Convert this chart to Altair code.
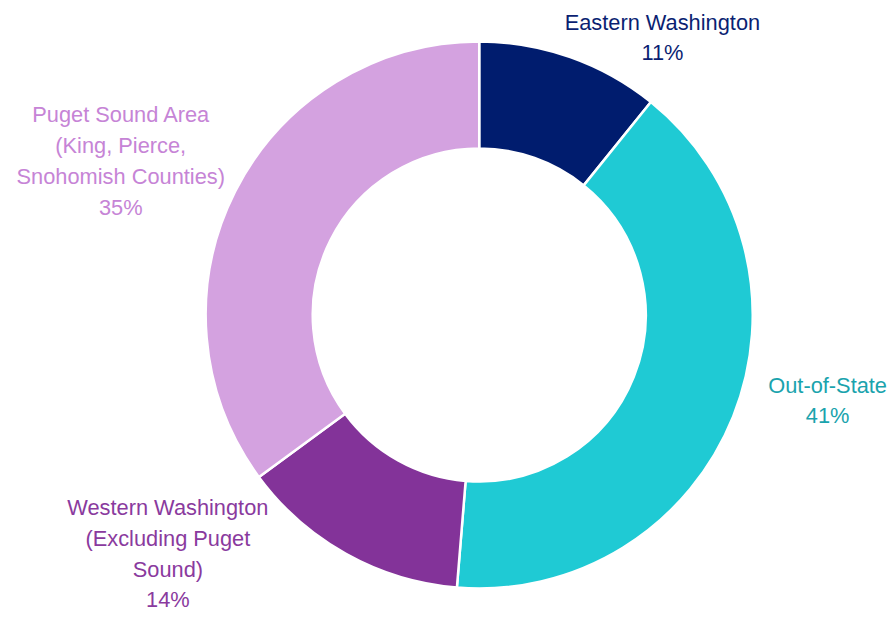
import altair as alt
import pandas as pd

regions = ["Eastern Washington", "Out-of-State", "Western Washington", "Puget Sound Area"]
label_text = [
    "Eastern Washington\n11%",
    "Out-of-State\n41%",
    "Western Washington\n(Excluding Puget\nSound)\n14%",
    "Puget Sound Area\n(King, Pierce,\nSnohomish Counties)\n35%",
]
shares = [10.8, 40.5, 13.6, 35.1]
order = [0, 1, 2, 3]

slice_colors = ["#001C6E", "#1FCAD4", "#833399", "#D4A2E0"]
text_colors = ["#0B1F72", "#1AA3AD", "#8A3A9E", "#C684D6"]

df = pd.DataFrame({"region": regions, "label": label_text, "share": shares, "idx": order})

CX, CY = 475.5, 307  # donut centre in chart coords

base = alt.Chart(df)

donut = base.mark_arc(innerRadius=168, outerRadius=276, stroke="white", strokeWidth=2.5).encode(
    theta=alt.Theta("share:Q", stack=True),
    order=alt.Order("idx:Q"),
    color=alt.Color("region:N", scale=alt.Scale(domain=regions, range=slice_colors), legend=None),
    x=alt.value(CX),
    y=alt.value(CY),
)

# label offsets (dx, dy) from a point at radius 300 on the slice mid-angle
offsets = [(85, -12), (73, -40), (-168, -67), (-94, -66)]

stacked = (
    base.transform_joinaggregate(total="sum(share)")
    .transform_stack(stack="share", groupby=[], as_=["s0", "s1"], sort=[alt.SortField("idx")])
    .transform_calculate(mid="(datum.s0 + datum.s1) / 2 / datum.total")
)

layers = [donut]
for i, r in enumerate(regions):
    dx, dy = offsets[i]
    t = stacked.transform_filter(alt.datum.region == r).mark_text(
        radius=300, dx=dx, dy=dy, align="center", baseline="middle",
        font="Liberation Sans", fontSize=22, lineHeight=31, lineBreak="\n",
        color=text_colors[i],
    ).encode(
        theta=alt.Theta("mid:Q", scale=alt.Scale(domain=[0, 1])),
        text="label:N",
        x=alt.value(CX),
        y=alt.value(CY),
    )
    layers.append(t)

chart = alt.layer(*layers).resolve_scale(theta="independent").properties(
    width=879, height=601, padding=0, background="white"
).configure_view(stroke=None)

chart.save("out.html", embed_options={"renderer": "svg", "actions": False})
